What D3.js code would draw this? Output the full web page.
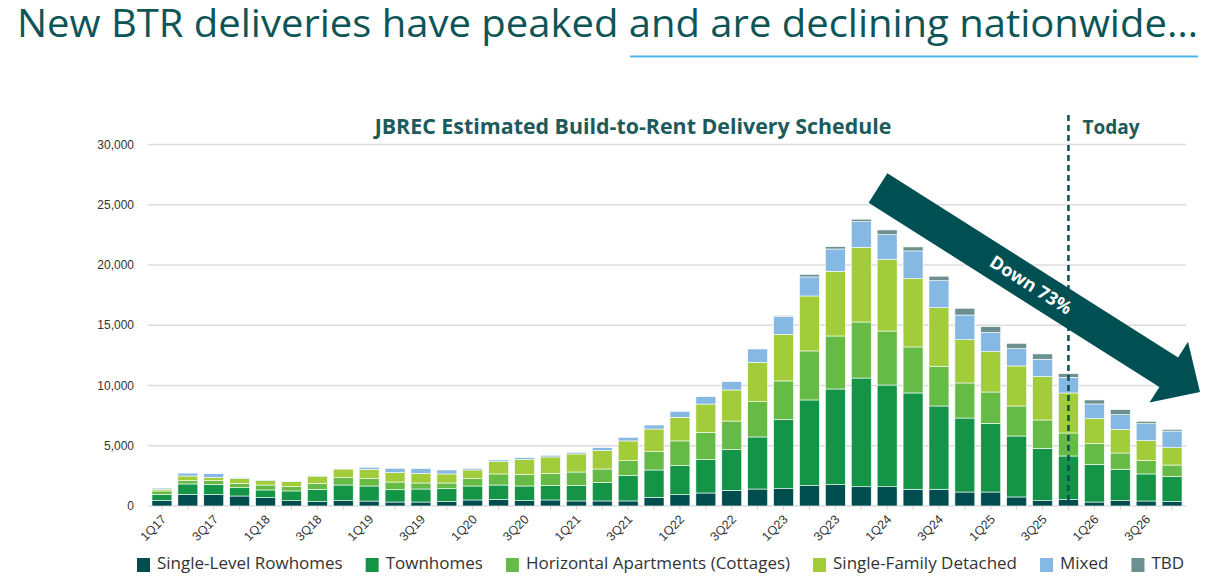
<!DOCTYPE html>
<html>
<head>
<meta charset="utf-8">
<script src="https://cdn.jsdelivr.net/npm/d3@7"></script>
<style>
  body { margin: 0; background: #fff; }
  svg { display: block; }
  .tick-label { font-family: "Liberation Sans", Arial, sans-serif; font-size: 12.5px; fill: #333; }
  .y-label { font-family: "Liberation Sans", Arial, sans-serif; font-size: 12px; fill: #333; }
  .legend-text { font-family: "Open Sans", "Noto Sans", sans-serif; font-size: 17px; fill: #333; }
</style>
</head>
<body>
<div id="chart"></div>
<script>
  "use strict";

  // Data
  var quarters = [
    "1Q17","2Q17","3Q17","4Q17","1Q18","2Q18","3Q18","4Q18","1Q19","2Q19",
    "3Q19","4Q19","1Q20","2Q20","3Q20","4Q20","1Q21","2Q21","3Q21","4Q21",
    "1Q22","2Q22","3Q22","4Q22","1Q23","2Q23","3Q23","4Q23","1Q24","2Q24",
    "3Q24","4Q24","1Q25","2Q25","3Q25","4Q25","1Q26","2Q26","3Q26","4Q26"
  ];
  var seriesNames = [
    "Single-Level Rowhomes", "Townhomes", "Horizontal Apartments (Cottages)",
    "Single-Family Detached", "Mixed", "TBD"
  ];
  var singleLevel = [450,950,950,830,690,440,360,440,410,330,330,360,500,550,440,500,420,420,420,720,
                     940,1080,1300,1410,1440,1690,1770,1600,1600,1390,1390,1160,1160,750,440,530,330,440,415,360];
  var townhomes = [500,880,830,690,640,810,1020,1300,1250,1020,1080,1080,1160,1190,1220,1190,1270,1540,2100,2270,
                   2410,2770,3380,4320,5720,7110,7940,9020,8440,7990,6910,6140,5700,5060,4350,3620,3130,2610,2245,2100];
  var horizontal = [300,270,330,360,410,350,500,610,610,640,500,470,610,920,970,1020,1130,1110,1240,1520,
                    2050,2260,2370,2930,3220,4070,4400,4650,4480,3820,3300,2910,2600,2490,2350,1910,1740,1350,1130,940];
  var singleFamily = [150,390,250,390,360,420,600,720,770,780,800,750,720,1020,1240,1360,1500,1540,1640,1880,
                      1960,2350,2580,3260,3870,4560,5370,6200,5960,5670,4860,3590,3350,3320,3600,3320,2050,1960,1630,1440];
  var mixed = [100,250,320,80,60,30,30,30,170,360,390,330,120,140,140,140,140,230,300,330,
               500,610,690,1110,1490,1580,1850,2130,2040,2300,2240,2050,1600,1440,1440,1300,1220,1220,1410,1380];
  var tbd = [20,30,20,0,0,0,0,0,0,0,0,0,20,0,0,0,0,0,0,0,
             0,0,0,0,60,200,190,200,390,330,370,560,470,440,440,300,330,420,200,140];
  var yTicks = [0, 5000, 10000, 15000, 20000, 25000, 30000];
  var todayQuarter = "4Q25";
  var colors = ["#004d50", "#139447", "#66bb47", "#a2cc3a", "#85b9e3", "#6c8f90"];

  var width = 1222, height = 580;
  var teal = "#0d5556";

  var rows = quarters.map(function(q, i) {
    return {
      q: q,
      s0: singleLevel[i], s1: townhomes[i], s2: horizontal[i],
      s3: singleFamily[i], s4: mixed[i], s5: tbd[i]
    };
  });

  var svg = d3.select("#chart")
    .append("svg")
    .attr("width", width)
    .attr("height", height);

  // Scales
  var x = d3.scaleBand()
    .domain(quarters)
    .range([149, 1185])
    .paddingInner(0.23)
    .paddingOuter(0.115);

  var y = d3.scaleLinear()
    .domain([0, 30000])
    .range([506, 144.5]);

  // Page title
  svg.append("text")
    .attr("x", 17)
    .attr("y", 37)
    .attr("textLength", 1181)
    .attr("lengthAdjust", "spacingAndGlyphs")
    .style("font-family", "'Open Sans', 'Noto Sans', sans-serif")
    .style("font-weight", 400)
    .style("font-size", "38px")
    .style("fill", teal)
    .text("New BTR deliveries have peaked and are declining nationwide\u2026");

  svg.append("line")
    .attr("x1", 630).attr("x2", 1198)
    .attr("y1", 56.5).attr("y2", 56.5)
    .style("stroke", "#4db8ea")
    .style("stroke-width", 2);

  // Grid lines + y labels
  svg.append("g")
    .selectAll("line")
    .data(yTicks)
    .enter()
    .append("line")
    .attr("x1", 148).attr("x2", 1186)
    .attr("y1", function(d) { return y(d); })
    .attr("y2", function(d) { return y(d); })
    .style("stroke", "#dcdcdc")
    .style("stroke-width", 1.5);

  svg.append("g")
    .selectAll("text")
    .data(yTicks)
    .enter()
    .append("text")
    .attr("class", "y-label")
    .attr("x", 134)
    .attr("y", function(d) { return y(d); })
    .attr("dy", "0.35em")
    .attr("text-anchor", "end")
    .text(function(d) { return d3.format(",")(d); });

  // x ticks
  svg.append("g")
    .selectAll("line")
    .data(quarters)
    .enter()
    .append("line")
    .attr("x1", function(d) { return x(d) + x.bandwidth() / 2; })
    .attr("x2", function(d) { return x(d) + x.bandwidth() / 2; })
    .attr("y1", 506).attr("y2", 510)
    .style("stroke", "#d0d0d0")
    .style("stroke-width", 1);

  svg.append("g")
    .selectAll("text")
    .data(quarters.filter(function(d, i) { return i % 2 === 0; }))
    .enter()
    .append("text")
    .attr("class", "tick-label")
    .attr("text-anchor", "end")
    .attr("transform", function(d) {
      return "translate(" + (x(d) + x.bandwidth() / 2 + 2) + ",517) rotate(-45)";
    })
    .attr("dy", "0.35em")
    .text(function(d) { return d; });

  // Stacked bars
  var keys = ["s0", "s1", "s2", "s3", "s4", "s5"];
  var stacked = d3.stack().keys(keys)(rows);

  svg.append("g")
    .selectAll("g")
    .data(stacked)
    .enter()
    .append("g")
    .style("fill", function(d, i) { return colors[i]; })
    .selectAll("rect")
    .data(function(d) { return d; })
    .enter()
    .append("rect")
    .attr("x", function(d) { return x(d.data.q); })
    .attr("width", x.bandwidth())
    .attr("y", function(d) { return y(d[1]); })
    .attr("height", function(d) { return Math.max(0, y(d[0]) - y(d[1])); })
    .style("stroke", "#fff")
    .style("stroke-width", 0.6);

  // Chart title + Today marker
  var sub = svg.append("text")
    .attr("x", 633)
    .attr("y", 134)
    .attr("text-anchor", "middle")
    .style("font-family", "'Open Sans', 'Noto Sans', sans-serif")
    .style("font-weight", 700)
    .style("font-size", "19px")
    .style("fill", "#1c5a5b")
    .text("JBREC Estimated Build-to-Rent Delivery Schedule");
  var sw = sub.node().getComputedTextLength();
  sub.style("font-size", (19 * 517 / sw) + "px");

  var tx = x(todayQuarter) + x.bandwidth() / 2;
  svg.append("line")
    .attr("x1", tx).attr("x2", tx)
    .attr("y1", 115).attr("y2", 500)
    .style("stroke", "#0b4f50")
    .style("stroke-width", 2.5)
    .style("stroke-dasharray", "6,4");

  svg.append("text")
    .attr("x", tx + 14)
    .attr("y", 134)
    .style("font-family", "'Open Sans', 'Noto Sans', sans-serif")
    .style("font-weight", 700)
    .style("font-size", "19px")
    .style("fill", "#1c5a5b")
    .text("Today");

  // Down arrow annotation
  var tail = [878, 188], tip = [1200, 392];
  var len = Math.hypot(tip[0] - tail[0], tip[1] - tail[1]);
  var ux = (tip[0] - tail[0]) / len, uy = (tip[1] - tail[1]) / len;
  var nx = -uy, ny = ux;
  function pt(a, p) { return [tail[0] + ux * a + nx * p, tail[1] + uy * a + ny * p]; }
  var hw = 17.5, headW = 36, headAt = len - 37;
  var arrowPts = [pt(0, -hw), pt(headAt, -hw), pt(headAt, -headW), pt(len, 0),
                  pt(headAt, headW), pt(headAt, hw), pt(0, hw)];
  svg.append("polygon")
    .attr("points", arrowPts.map(function(p) { return p.join(","); }).join(" "))
    .style("fill", "#004f52");

  var mid = pt(181, 0);
  svg.append("text")
    .attr("transform", "translate(" + mid[0] + "," + mid[1] + ") rotate(" + (Math.atan2(uy, ux) * 180 / Math.PI) + ")")
    .attr("text-anchor", "middle")
    .attr("dy", "0.35em")
    .style("font-family", "'Open Sans', 'Noto Sans', sans-serif")
    .style("font-weight", 700)
    .style("font-size", "18px")
    .style("fill", "#fff")
    .text("Down 73%");

  // Legend
  var lx = 137;
  var legend = svg.append("g");
  seriesNames.forEach(function(name, i) {
    legend.append("rect")
      .attr("x", lx).attr("y", 558)
      .attr("width", 13).attr("height", 14)
      .style("fill", colors[i]);
    var t = legend.append("text")
      .attr("class", "legend-text")
      .attr("x", lx + 20)
      .attr("y", 569)
      .text(name);
    lx += 20 + t.node().getComputedTextLength() + 23;
  });
</script>
</body>
</html>
